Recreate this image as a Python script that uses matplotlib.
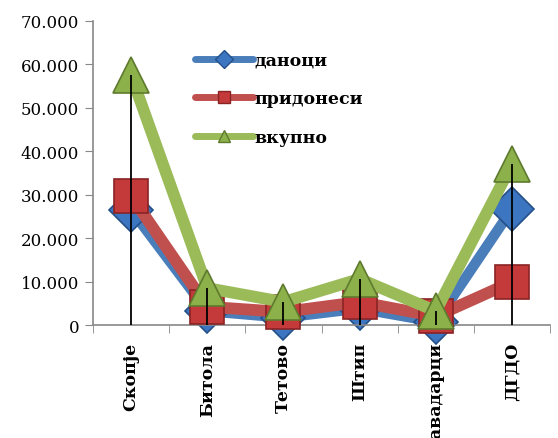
import numpy as np
from matplotlib import pyplot as plt
from matplotlib.lines import Line2D

# Податоци по град
gradovi = ["Скопје", "Битола", "Тетово", "Штип", "Кавадарци", "ДГДО"]
danoci = [26500, 3200, 1700, 3800, 700, 26700]
pridonesi = [29700, 4200, 3000, 5300, 2000, 9900]
vkupno = [57500, 8500, 5300, 10600, 3200, 37000]

serii = [
    ("даноци", danoci, "#4A7EBB", "D", "#3D76C0", "#24508A", 22, 7.5),
    ("придонеси", pridonesi, "#C0504D", "s", "#C4393A", "#8A2424", 25, 8.5),
    ("вкупно", vkupno, "#9BBB59", "^", "#8CB04A", "#5E7A2E", 26, 8.5),
]

fig = plt.figure(figsize=(5.58, 4.39), dpi=100)
ax = fig.add_axes([0.1667, 0.2574, 0.819, 0.6926])

x = np.arange(len(gradovi))
handles = []
for i, (ime, vals, boja, mark, mboja, rab, ms, lw) in enumerate(serii):
    ax.plot(x, vals, color=boja, lw=lw, marker=mark, markersize=ms,
            markerfacecolor=mboja, markeredgecolor=rab, markeredgewidth=1.2,
            zorder=2 + i, solid_capstyle="round", clip_on=False)
    handles.append(Line2D([], [], color=boja, lw=5, marker=mark, markersize=9,
                          markerfacecolor=mboja, markeredgecolor=rab,
                          solid_capstyle="round", label=ime))

# вертикални линии до највисоката вредност
najvisoko = np.max([danoci, pridonesi, vkupno], axis=0)
ax.vlines(x, 0, najvisoko, color="black", lw=1.3, zorder=10)

ax.set_xlim(-0.5, len(gradovi) - 0.5)
ax.set_ylim(0, 70000)
ax.set_yticks(np.arange(0, 70001, 10000))
ax.set_yticklabels(["0"] + [f"{v // 1000}.000" for v in range(10000, 70001, 10000)],
                   family="DejaVu Serif", fontsize=12)
ax.set_xticks(x)
ax.set_xticklabels(gradovi, rotation=90, family="DejaVu Serif", fontsize=12.5,
                   fontweight="bold")
ax.set_xticks(np.arange(-0.5, len(gradovi)), minor=True)
ax.tick_params(axis="x", which="major", length=0, pad=12)
ax.tick_params(axis="x", which="minor", length=6, color="#888888")
ax.tick_params(axis="y", length=6, color="#888888", pad=4)

for s in ["top", "right"]:
    ax.spines[s].set_visible(False)
for s in ["left", "bottom"]:
    ax.spines[s].set_color("#888888")
    ax.spines[s].set_linewidth(1.2)

ax.legend(handles=handles, loc="upper left", bbox_to_anchor=(0.19, 0.95),
          frameon=False, handlelength=3.3, labelspacing=1.25, handletextpad=0.1,
          prop={"family": "DejaVu Serif", "weight": "bold", "size": 12.5})

plt.savefig("out.png", dpi=100)
